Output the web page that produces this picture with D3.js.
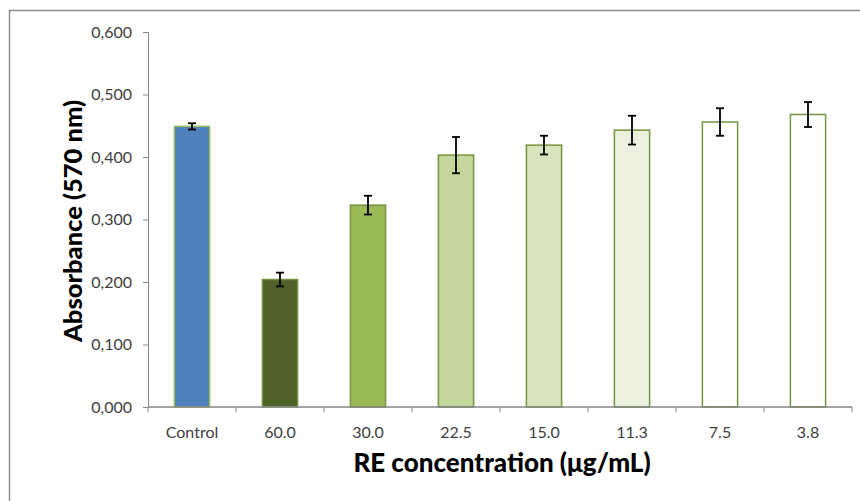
<!DOCTYPE html>
<html><head><meta charset="utf-8">
<script src="https://cdn.jsdelivr.net/npm/d3@7"></script>
<style>html,body{margin:0;padding:0;background:#fff;overflow:hidden}</style>
</head><body>
<svg id="chart" width="860" height="501"></svg>
<script>
const categories = ["Control","60.0","30.0","22.5","15.0","11.3","7.5","3.8"];
const values = [0.449, 0.204, 0.323, 0.403, 0.419, 0.443, 0.456, 0.468];
const errors = [0.005, 0.011, 0.015, 0.029, 0.015, 0.023, 0.022, 0.020];
const fills = ["#4F81BD","#4F6228","#9BBB59","#C3D69B","#D7E4BD","#EBF1DE","#FFFFFF","#FFFFFF"];
const yTicks = [0, 0.1, 0.2, 0.3, 0.4, 0.5, 0.6];
const yTitle = "Absorbance (570 nm)";
const xTitle = "RE concentration (μg/mL)";

const svg = d3.select("#chart");
const font = "Lato, 'Open Sans', sans-serif";
const m = {left:148, right:852, top:32, bottom:407};

svg.append("rect").attr("x",9.5).attr("y",10.5).attr("width",900).attr("height",600)
  .attr("fill","none").attr("stroke","#8c8c8c").attr("stroke-width",1.5);

const x = d3.scaleBand().domain(categories).range([m.left, m.right]).paddingInner(0.6).paddingOuter(0.3);
const y = d3.scaleLinear().domain([0,0.6]).range([m.bottom, m.top]);

// y axis
const yAxis = svg.append("g").attr("transform",`translate(${m.left},0)`)
  .call(d3.axisLeft(y).tickValues(yTicks).tickSize(5).tickPadding(11).tickFormat(d => d3.format(".3f")(d).replace(".",",")));
yAxis.select(".domain").attr("stroke","#868686");
yAxis.selectAll(".tick line").attr("stroke","#868686");
yAxis.selectAll("text").attr("font-family",font).attr("font-size",16).attr("fill","#404040");

// bars
svg.append("g").selectAll("rect").data(categories).join("rect")
  .attr("x", d => x(d)).attr("width", x.bandwidth())
  .attr("y", (d,i) => y(values[i])).attr("height", (d,i) => y(0) - y(values[i]))
  .attr("fill", (d,i) => fills[i]).attr("stroke", (d,i)=> i===0 ? "#9BBB59" : "#77933C").attr("stroke-width",1.5);

// error bars
const eb = svg.append("g").attr("stroke","#000").attr("stroke-width",1.8);
categories.forEach((c,i) => {
  const cx = x(c) + x.bandwidth()/2;
  const y1 = y(values[i]+errors[i]), y2 = y(values[i]-errors[i]);
  eb.append("line").attr("x1",cx).attr("x2",cx).attr("y1",y1).attr("y2",y2);
  eb.append("line").attr("x1",cx-4).attr("x2",cx+4).attr("y1",y1).attr("y2",y1);
  eb.append("line").attr("x1",cx-4).attr("x2",cx+4).attr("y1",y2).attr("y2",y2);
});

// x axis
const step = x.step();
const xg = svg.append("g");
xg.append("line").attr("x1",m.left).attr("x2",m.right).attr("y1",y(0)).attr("y2",y(0)).attr("stroke","#868686").attr("stroke-width",1.5);
d3.range(categories.length+1).forEach(k => {
  const tx = m.left + k*step;
  xg.append("line").attr("x1",tx).attr("x2",tx).attr("y1",y(0)).attr("y2",y(0)+5).attr("stroke","#868686");
});
xg.selectAll("text").data(categories).join("text")
  .attr("x", d => x(d)+x.bandwidth()/2).attr("y", 438)
  .attr("text-anchor","middle").attr("font-family",font).attr("font-size",16).attr("fill","#404040").text(d=>d);

// titles
svg.append("text").attr("x",502).attr("y",472).attr("text-anchor","middle")
  .attr("font-family",font).attr("font-weight","900").attr("font-size",26).attr("fill","#000").text(xTitle);
svg.append("text").attr("transform","translate(82,221) rotate(-90)").attr("text-anchor","middle")
  .attr("font-family",font).attr("font-weight","900").attr("font-size",25.5).attr("fill","#000").text(yTitle);
</script>
</body></html>
